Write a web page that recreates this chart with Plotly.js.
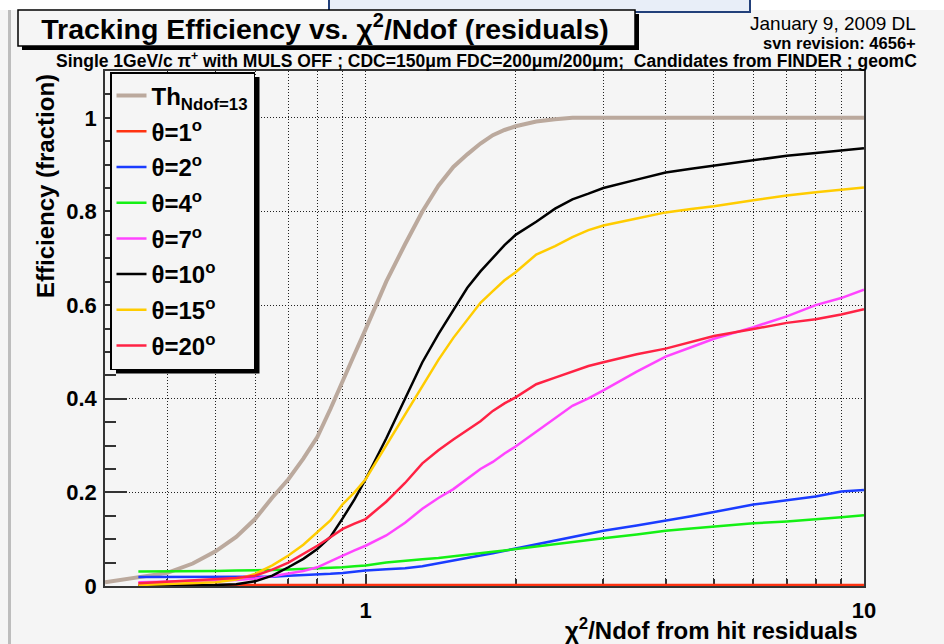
<!DOCTYPE html>
<html>
<head>
<meta charset="utf-8">
<script src="https://cdn.plot.ly/plotly-3.0.1.min.js"></script>
<style>
html,body{margin:0;padding:0;background:#f5f5f5;}
#chart{width:944px;height:644px;}
</style>
</head>
<body>
<div id="chart"></div>
<script>
// ---------------- data ----------------
const chi2Th = [0.3, 0.35, 0.4, 0.45, 0.5, 0.55, 0.6, 0.65, 0.7, 0.75, 0.8, 0.85, 0.9, 0.95, 1.0, 1.1, 1.2, 1.3, 1.4, 1.5, 1.6, 1.7, 1.8, 1.9, 2.0, 2.2, 2.4, 2.6, 3, 4, 5, 6, 7, 8, 9, 10];
const effTh  = [0.008, 0.018, 0.028, 0.048, 0.074, 0.105, 0.143, 0.189, 0.228, 0.272, 0.318, 0.378, 0.440, 0.495, 0.548, 0.650, 0.730, 0.800, 0.855, 0.895, 0.922, 0.945, 0.963, 0.974, 0.982, 0.992, 0.997, 1.0, 1.0, 1.0, 1.0, 1.0, 1.0, 1.0, 1.0, 1.0];

const chi2 = [0.35, 0.4, 0.45, 0.5, 0.55, 0.6, 0.65, 0.7, 0.75, 0.8, 0.85, 0.9, 0.95, 1.0, 1.1, 1.2, 1.3, 1.4, 1.5, 1.6, 1.7, 1.8, 1.9, 2.0, 2.2, 2.4, 2.6, 2.8, 3.0, 3.5, 4, 4.5, 5, 6, 7, 8, 9, 10];

const effTheta1  = [0.002, 0.002, 0.002, 0.002, 0.002, 0.002, 0.002, 0.002, 0.002, 0.002, 0.002, 0.002, 0.002, 0.002, 0.002, 0.002, 0.002, 0.002, 0.002, 0.002, 0.002, 0.002, 0.002, 0.002, 0.002, 0.002, 0.002, 0.002, 0.002, 0.002, 0.002, 0.002, 0.002, 0.002, 0.002, 0.002, 0.002, 0.002];
const effTheta2  = [0.019, 0.019, 0.019, 0.019, 0.020, 0.020, 0.020, 0.022, 0.023, 0.025, 0.026, 0.028, 0.031, 0.033, 0.036, 0.038, 0.042, 0.048, 0.055, 0.060, 0.065, 0.070, 0.075, 0.079, 0.088, 0.097, 0.104, 0.111, 0.118, 0.129, 0.139, 0.149, 0.158, 0.174, 0.183, 0.191, 0.202, 0.205];
const effTheta4  = [0.031, 0.031, 0.031, 0.032, 0.033, 0.033, 0.034, 0.035, 0.036, 0.037, 0.038, 0.040, 0.042, 0.044, 0.050, 0.053, 0.057, 0.060, 0.064, 0.067, 0.070, 0.073, 0.076, 0.079, 0.085, 0.090, 0.095, 0.099, 0.102, 0.110, 0.118, 0.123, 0.127, 0.134, 0.138, 0.142, 0.147, 0.151];
const effTheta7  = [0.008, 0.010, 0.011, 0.012, 0.013, 0.016, 0.021, 0.026, 0.032, 0.040, 0.052, 0.065, 0.076, 0.086, 0.108, 0.135, 0.165, 0.188, 0.207, 0.230, 0.250, 0.265, 0.283, 0.298, 0.330, 0.358, 0.385, 0.401, 0.418, 0.458, 0.490, 0.510, 0.528, 0.553, 0.576, 0.600, 0.615, 0.633];
const effTheta10 = [0.000, 0.000, 0.001, 0.002, 0.004, 0.010, 0.022, 0.040, 0.058, 0.079, 0.105, 0.145, 0.185, 0.228, 0.315, 0.400, 0.478, 0.538, 0.588, 0.637, 0.672, 0.700, 0.728, 0.750, 0.778, 0.806, 0.826, 0.838, 0.850, 0.868, 0.883, 0.891, 0.898, 0.910, 0.919, 0.925, 0.930, 0.935];
const effTheta15 = [0.002, 0.004, 0.006, 0.008, 0.014, 0.026, 0.044, 0.065, 0.088, 0.114, 0.140, 0.175, 0.200, 0.228, 0.300, 0.365, 0.425, 0.483, 0.530, 0.570, 0.605, 0.630, 0.653, 0.670, 0.708, 0.726, 0.745, 0.760, 0.770, 0.785, 0.798, 0.805, 0.811, 0.824, 0.834, 0.841, 0.846, 0.851];
const effTheta20 = [0.006, 0.009, 0.012, 0.014, 0.017, 0.022, 0.035, 0.050, 0.068, 0.086, 0.104, 0.122, 0.133, 0.143, 0.180, 0.220, 0.262, 0.290, 0.313, 0.333, 0.352, 0.374, 0.390, 0.403, 0.431, 0.445, 0.458, 0.470, 0.478, 0.495, 0.507, 0.522, 0.534, 0.549, 0.562, 0.570, 0.580, 0.591];

const seriesNames = ['Th<sub>Ndof=13</sub>', 'θ=1<sup>o</sup>', 'θ=2<sup>o</sup>', 'θ=4<sup>o</sup>', 'θ=7<sup>o</sup>', 'θ=10<sup>o</sup>', 'θ=15<sup>o</sup>', 'θ=20<sup>o</sup>'];

const yTickVals = [0, 0.2, 0.4, 0.6, 0.8, 1];
const yTickText = ['0', '0.2', '0.4', '0.6', '0.8', '1'];
const xTickVals = [1, 10];
const xTickText = ['1', '10'];
const xMinorVals = [0.4, 0.5, 0.6, 0.7, 0.8, 0.9, 2, 3, 4, 5, 6, 7, 8, 9];

// ---------------- styles ----------------
const seriesColors = ['#bba99d', '#ff3311', '#1a3cff', '#14f014', '#ff44ff', '#000000', '#ffcc00', '#ff2244'];
const seriesWidths = [4, 2.5, 2.5, 2.5, 2.5, 2.5, 2.5, 2.5];
const FONT = 'Liberation Sans, Arial, Helvetica, sans-serif';

const ys = [effTh, effTheta1, effTheta2, effTheta4, effTheta7, effTheta10, effTheta15, effTheta20];
const traces = ys.map(function (y, i) {
  return {
    type: 'scatter', mode: 'lines',
    x: i === 0 ? chi2Th : chi2,
    y: y,
    name: seriesNames[i],
    legendgroup: 'g' + i,
    line: {color: seriesColors[i], width: seriesWidths[i]},
    hoverinfo: 'skip'
  };
});

// plot geometry helpers (paper coords from pixels)
const L = 105, R = 80, T = 71, B = 58, W = 944, H = 644;
const pw = W - L - R, ph = H - T - B;
function px(x) { return (x - L) / pw; }
function py(y) { return (H - B - y) / ph; }

const legX = px(110), legY = py(72);

const layout = {
  width: W, height: H,
  margin: {l: L, r: R, t: T, b: B, autoexpand: false},
  paper_bgcolor: '#f5f5f5',
  plot_bgcolor: '#f5f5f5',
  font: {family: FONT, color: '#000'},
  showlegend: true,
  title: {
    text: 'Tracking Efficiency vs. χ<sup>2</sup>/Ndof (residuals)',
    x: px(325), xref: 'paper', xanchor: 'center',
    y: 1 - 29 / H, yref: 'container', yanchor: 'middle',
    font: {family: FONT, size: 28.5, weight: 'bold', color: '#000'}
  },
  legend: {
    x: legX, y: legY, xanchor: 'left', yanchor: 'top',
    bgcolor: '#f5f5f5', bordercolor: '#000', borderwidth: 1.5,
    font: {family: FONT, size: 24, weight: 'bold', color: '#000'},
    tracegroupgap: 1.5,
    traceorder: 'grouped'
  },
  xaxis: {
    type: 'log',
    range: [Math.log10(0.3), Math.log10(10.002)],
    tickmode: 'array', tickvals: xTickVals, ticktext: xTickText,
    ticks: 'inside', ticklen: 12, tickwidth: 1.5, tickcolor: '#333',
    ticklabelstandoff: 4,
    tickfont: {family: FONT, size: 22, weight: 'bold', color: '#000'},
    showline: true, linecolor: '#333', linewidth: 1.5, mirror: true,
    showgrid: true, gridcolor: '#222', gridwidth: 1, griddash: '1px,2px',
    zeroline: false,
    layer: 'below traces',
    minor: {
      tickmode: 'array', tickvals: xMinorVals,
      ticks: 'inside', ticklen: 7, tickwidth: 1.5, tickcolor: '#333',
      showgrid: true, gridcolor: '#222', gridwidth: 1, griddash: '1px,2px'
    }
  },
  yaxis: {
    range: [0, 1.1],
    tickmode: 'array', tickvals: yTickVals, ticktext: yTickText,
    ticks: 'inside', ticklen: 22, tickwidth: 1.5, tickcolor: '#333',
    ticklabelstandoff: 2,
    tickfont: {family: FONT, size: 22, weight: 'bold', color: '#000'},
    showline: true, linecolor: '#333', linewidth: 1.5, mirror: true,
    showgrid: true, gridcolor: '#222', gridwidth: 1, griddash: '1px,2px',
    zeroline: false,
    layer: 'below traces',
    minor: {
      dtick: 0.05, tick0: 0,
      ticks: 'inside', ticklen: 11, tickwidth: 1.5, tickcolor: '#333',
      showgrid: false
    }
  },
  shapes: [
    // white strip on top of the slide
    {type: 'rect', xref: 'paper', yref: 'paper', x0: px(-5), x1: px(950), y0: py(10), y1: py(-5),
     fillcolor: '#ffffff', line: {width: 0}, layer: 'below'},
    // slide box at top
    {type: 'rect', xref: 'paper', yref: 'paper', x0: px(329), x1: px(750), y0: py(12), y1: py(-5),
     fillcolor: '#e8eef8', line: {color: '#22407a', width: 2}, layer: 'above'},
    // left gray border line of canvas
    {type: 'line', xref: 'paper', yref: 'paper', x0: px(9.5), x1: px(9.5), y0: py(10), y1: py(650),
     line: {color: '#bdbdbd', width: 3}, layer: 'above'},
    // title box shadow
    {type: 'rect', xref: 'paper', yref: 'paper', x0: px(22), x1: px(639), y0: py(50), y1: py(14),
     fillcolor: '#000000', line: {width: 0}, layer: 'above'},
    // title box
    {type: 'rect', xref: 'paper', yref: 'paper', x0: px(18), x1: px(635), y0: py(46), y1: py(10),
     fillcolor: '#f5f5f5', line: {color: '#000', width: 1.5}, layer: 'above'},
    // legend shadow (refined after render)
    {type: 'rect', xref: 'paper', yref: 'paper', xsizemode: 'pixel', ysizemode: 'pixel',
     xanchor: legX, yanchor: legY, x0: 6, x1: 153, y0: -290, y1: -5,
     fillcolor: '#000000', line: {width: 0}, layer: 'above'}
  ],
  annotations: [
    {text: 'January 9, 2009 DL', xref: 'paper', yref: 'paper', x: px(918), y: py(23),
     xanchor: 'right', yanchor: 'middle', showarrow: false,
     font: {family: FONT, size: 19, color: '#000'}},
    {text: 'svn revision: 4656+', xref: 'paper', yref: 'paper', x: px(918), y: py(43),
     xanchor: 'right', yanchor: 'middle', showarrow: false,
     font: {family: FONT, size: 16.5, weight: 'bold', color: '#000'}},
    {text: 'Single 1GeV/c π<sup>+</sup> with MULS OFF ; CDC=150μm FDC=200μm/200μm;  Candidates from FINDER ; geomC',
     xref: 'paper', yref: 'paper', x: px(486), y: py(60),
     xanchor: 'center', yanchor: 'middle', showarrow: false,
     font: {family: FONT, size: 17.5, weight: 'bold', color: '#000'}},
    {text: 'Efficiency (fraction)', xref: 'paper', yref: 'paper', x: px(45), y: py(72),
     xanchor: 'center', yanchor: 'top', textangle: -90, showarrow: false,
     font: {family: FONT, size: 24, weight: 'bold', color: '#000'}},
    {text: 'χ<sup>2</sup>/Ndof from hit residuals', xref: 'paper', yref: 'paper', x: px(860), y: py(629),
     xanchor: 'right', yanchor: 'middle', showarrow: false,
     font: {family: FONT, size: 24, weight: 'bold', color: '#000'}}
  ]
};

const gd = document.getElementById('chart');
Plotly.newPlot(gd, traces, layout, {displayModeBar: false, responsive: false}).then(function () {
  let w = null, h = null;
  const bg = gd.querySelector('.legend rect.bg');
  if (bg) {
    w = parseFloat(bg.getAttribute('width'));
    h = parseFloat(bg.getAttribute('height'));
  }
  if (!(w > 0 && h > 0)) {
    const lo = gd._fullLayout && gd._fullLayout.legend;
    if (lo) { w = lo._width; h = lo._height; }
  }
  if (w > 0 && h > 0) {
    return Plotly.relayout(gd, {
      'shapes[5].x0': 6, 'shapes[5].x1': w + 6,
      'shapes[5].y0': -(h + 5), 'shapes[5].y1': -5
    });
  }
});
</script>
</body>
</html>
